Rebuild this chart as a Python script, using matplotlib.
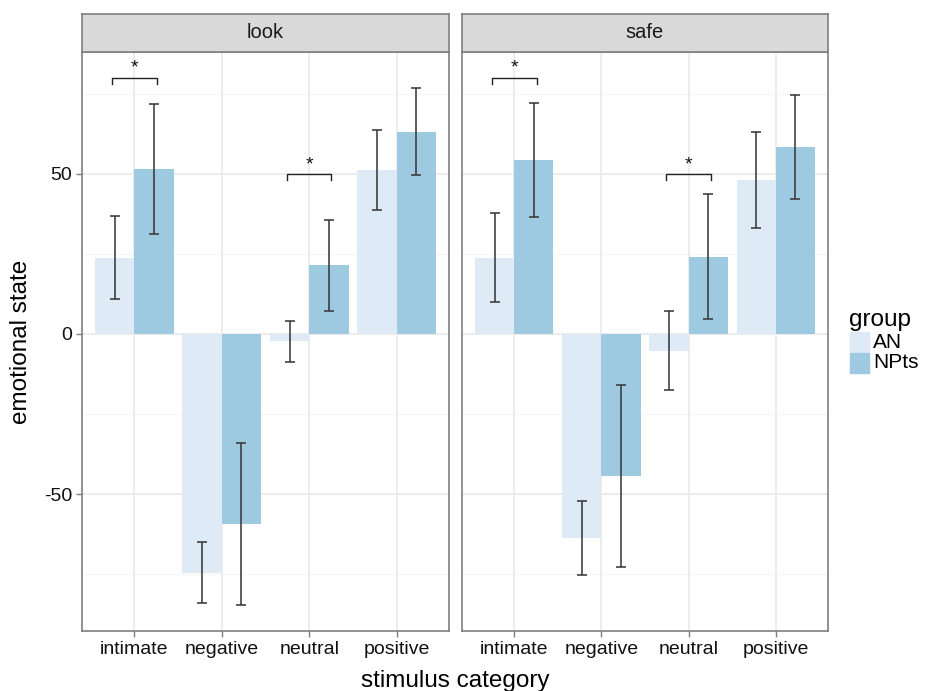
import matplotlib
matplotlib.use("Agg")
import matplotlib.pyplot as plt
import numpy as np

plt.rcParams['font.family'] = ['Liberation Sans', 'DejaVu Sans']

facets = ["look", "safe"]
categories = ["intimate", "negative", "neutral", "positive"]
groups = ["AN", "NPts"]
colors = {"AN": "#deebf7", "NPts": "#9ecae1"}

# means[facet][group]
means = {
    "look": {"AN": [23.8, -74.6, -2.3, 51.2], "NPts": [51.5, -59.4, 21.5, 63.2]},
    "safe": {"AN": [23.8, -63.8, -5.2, 48.1], "NPts": [54.5, -44.4, 24.1, 58.4]},
}
errs = {
    "look": {"AN": [13.0, 9.6, 6.3, 12.5], "NPts": [20.3, 25.2, 14.2, 13.5]},
    "safe": {"AN": [13.9, 11.6, 12.4, 15.0], "NPts": [17.8, 28.5, 19.5, 16.2]},
}
# significance brackets: (category index, bracket height)
sig_cats = [0, 2]
sig_heights = {"look": [80, 50], "safe": [80, 50]}

W, H = 927, 691
fig = plt.figure(figsize=(W / 100, H / 100), dpi=100)

panels = [(82, 449), (462, 828)]
top, bot = 52, 631
strip_top = 14
ylim = (-92.8, 88.1)
dodge = 0.9
bw = dodge / 2

for fi, facet in enumerate(facets):
    x0, x1 = panels[fi]
    ax = fig.add_axes([x0 / W, (H - bot) / H, (x1 - x0) / W, (bot - top) / H])
    ax.set_xlim(0.4, 4.6)
    ax.set_ylim(*ylim)
    xs = np.arange(1, len(categories) + 1)
    # grid
    for yv in [-75, -25, 25, 75]:
        ax.axhline(yv, color="#f5f5f5", lw=0.9, zorder=0)
    for yv in [-50, 0, 50]:
        ax.axhline(yv, color="#ebebeb", lw=1.3, zorder=0)
    for xv in xs:
        ax.axvline(xv, color="#ebebeb", lw=1.3, zorder=0)
    for gi, g in enumerate(groups):
        off = (gi - 0.5) * bw
        ax.bar(xs + off, means[facet][g], width=bw, color=colors[g], zorder=2,
               label=g)
        ax.errorbar(xs + off, means[facet][g], yerr=errs[facet][g], fmt="none",
                    ecolor="#333333", elinewidth=1.1, capsize=3.8, capthick=1.1,
                    zorder=3)
    for ci, hgt in zip(sig_cats, sig_heights[facet]):
        xa = xs[ci] - bw / 2 - 0.03
        xb = xs[ci] + bw / 2 + 0.03
        ax.plot([xa, xa, xb, xb], [hgt - 2, hgt, hgt, hgt - 2], color="#222222",
                lw=1.0, zorder=4)
        ax.text(xs[ci], hgt + 0.3, "*", ha="center", va="bottom", fontsize=14,
                color="#111111")
    ax.set_xticks(xs)
    ax.set_xticklabels(categories, fontsize=14, color="#111111")
    ax.set_yticks([-50, 0, 50])
    ax.tick_params(axis="both", color="#7f7f7f", length=4, width=1, pad=3)
    if fi == 0:
        ax.set_yticklabels(["-50", "0", "50"], fontsize=14, color="#111111")
    else:
        ax.set_yticklabels([])
        ax.tick_params(axis="y", length=0)
    for s in ax.spines.values():
        s.set_color("#7f7f7f")
        s.set_linewidth(1.2)
    # strip
    sax = fig.add_axes([x0 / W, (H - top) / H, (x1 - x0) / W, (top - strip_top) / H])
    sax.set_facecolor("#d9d9d9")
    sax.set_xticks([])
    sax.set_yticks([])
    for s in sax.spines.values():
        s.set_color("#7f7f7f")
        s.set_linewidth(1.2)
    sax.text(0.5, 0.5, facet, ha="center", va="center", fontsize=14.5,
             color="#1a1a1a", transform=sax.transAxes)

fig.text(455 / W, 1 - 681 / H, "stimulus category", ha="center", va="center",
         fontsize=17.5)
fig.text(21 / W, 1 - 342 / H, "emotional state", ha="center", va="center",
         fontsize=17.5, rotation=90)

# legend
fig.text(849 / W, 1 - 320 / H, "group", ha="left", va="center", fontsize=17.5)
for gi, g in enumerate(groups):
    yc = 342 + gi * 21
    fig.patches.append(plt.Rectangle((850 / W, 1 - (yc + 10) / H), 19 / W, 20 / H,
                                     transform=fig.transFigure, color=colors[g]))
    fig.text(873 / W, 1 - yc / H, g, ha="left", va="center", fontsize=15)

fig.savefig("out.png", dpi=100)
